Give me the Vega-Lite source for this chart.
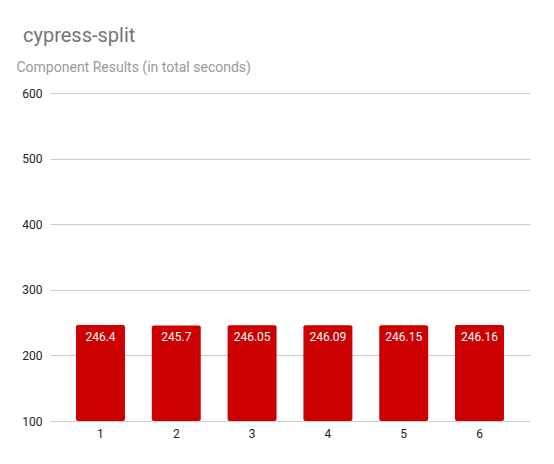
{
  "$schema": "https://vega.github.io/schema/vega-lite/v6.json",
  "width": 480,
  "height": 328,
  "autosize": "none",
  "padding": {"left": 50, "top": 93, "right": 24, "bottom": 43},
  "background": "white",
  "title": {
    "text": "cypress-split",
    "anchor": "start",
    "frame": "group",
    "font": "Roboto",
    "fontSize": 20,
    "fontWeight": "normal",
    "color": "#757575",
    "dx": -27,
    "offset": 14
  },
  "data": {
    "values": [
      {"run": "1", "seconds": 246.4},
      {"run": "2", "seconds": 245.7},
      {"run": "3", "seconds": 246.05},
      {"run": "4", "seconds": 246.09},
      {"run": "5", "seconds": 246.15},
      {"run": "6", "seconds": 246.16}
    ]
  },
  "config": {
    "view": {"stroke": null},
    "font": "Roboto"
  },
  "encoding": {
    "x": {
      "field": "run",
      "type": "ordinal",
      "title": null,
      "scale": {"paddingInner": 0.354, "paddingOuter": 0.343},
      "axis": {
        "labelAngle": 0,
        "domain": false,
        "ticks": false,
        "labelFont": "Roboto",
        "labelFontSize": 12,
        "labelColor": "#222222",
        "labelPadding": 7
      }
    },
    "y": {
      "field": "seconds",
      "type": "quantitative",
      "scale": {"domain": [100, 600], "zero": false, "nice": false},
      "title": "Component Results (in total seconds)",
      "axis": {
        "values": [100, 200, 300, 400, 500, 600],
        "domain": false,
        "ticks": false,
        "gridColor": "#cccccc",
        "labelFont": "Roboto",
        "labelFontSize": 12,
        "labelColor": "#222222",
        "labelPadding": 8,
        "titleAngle": 0,
        "titleAlign": "left",
        "titleBaseline": "alphabetic",
        "titleX": -34,
        "titleY": -22,
        "titleFont": "Roboto",
        "titleFontSize": 14,
        "titleFontWeight": "normal",
        "titleColor": "#999999"
      }
    }
  },
  "layer": [
    {
      "mark": {"type": "bar", "color": "#cc0000", "cornerRadius": 2},
      "encoding": {"y2": {"datum": 100}}
    },
    {
      "mark": {
        "type": "text",
        "color": "white",
        "baseline": "top",
        "dy": 7,
        "fontSize": 12,
        "font": "Roboto"
      },
      "encoding": {"text": {"field": "seconds", "type": "quantitative"}}
    }
  ]
}
